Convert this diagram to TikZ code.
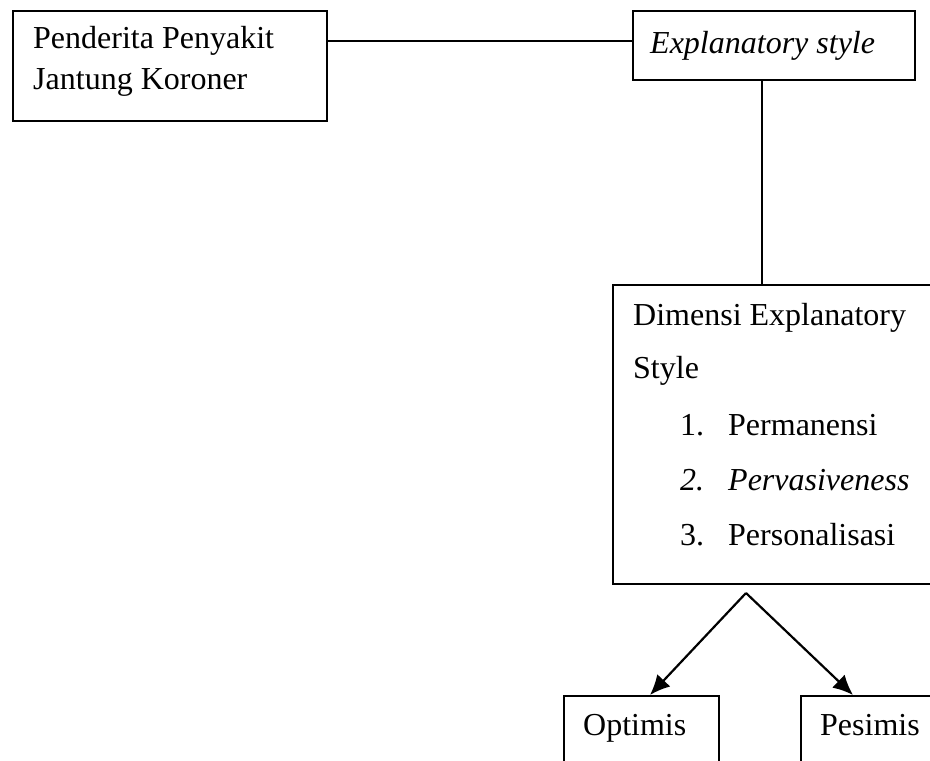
\documentclass[tikz,border=0pt]{standalone}
\usepackage{fontspec}
\setmainfont{Liberation Serif}
\usetikzlibrary{arrows.meta}
\begin{document}
\begin{tikzpicture}[x=1pt,y=-1pt,
  boxn/.style={draw,line width=2pt,inner sep=0pt,anchor=north west},
  txt/.style={anchor=base west,inner sep=0pt,font=\fontsize{32}{38}\selectfont},
  conn/.style={line width=2pt},
  arr/.style={line width=2.2pt,-{Latex[length=20pt,width=18pt]}}]
\useasboundingbox[fill=white] (0,0) rectangle (930,761);
\clip (0,0) rectangle (930,761);
% boxes
\node[boxn,minimum width=314pt,minimum height=110pt] (pjk) at (12,9.5) {};
\node[boxn,minimum width=282pt,minimum height=69.5pt] (expl) at (632,9.5) {};
\node[boxn,minimum width=340pt,minimum height=299pt] (dim) at (612,284) {};
\node[boxn,minimum width=155pt,minimum height=90pt] (opt) at (563,695) {};
\node[boxn,minimum width=150pt,minimum height=90pt] (pes) at (800,695) {};
% texts
\node[txt] (t1) at (33,48) {Penderita Penyakit};
\node[txt] (t2) at (33,89) {Jantung Koroner};
\node[txt] (t3) at (650,53) {\itshape Explanatory style};
\node[txt] (t4) at (633,325) {Dimensi Explanatory};
\node[txt] (t5) at (633,378) {Style};
\node[txt] (n1) at (680,435) {1.};
\node[txt] (i1) at (728,435) {Permanensi};
\node[txt] (n2) at (680,490) {\itshape 2.};
\node[txt] (i2) at (728,490) {\itshape Pervasiveness};
\node[txt] (n3) at (680,545) {3.};
\node[txt] (i3) at (728,545) {Personalisasi};
\node[txt] (t6) at (583,735) {Optimis};
\node[txt] (t7) at (820,735) {Pesimis};
% connectors
\draw[conn] (pjk.east |- 0,41) -- (expl.west |- 0,41);
\draw[conn] (expl.south -| 762,0) -- (dim.north -| 762,0);
\coordinate (apex) at (746,593);
\draw[arr] (apex) -- (opt.north -| 650,0);
\draw[arr] (apex) -- (pes.north -| 853,0);
\end{tikzpicture}
\end{document}
